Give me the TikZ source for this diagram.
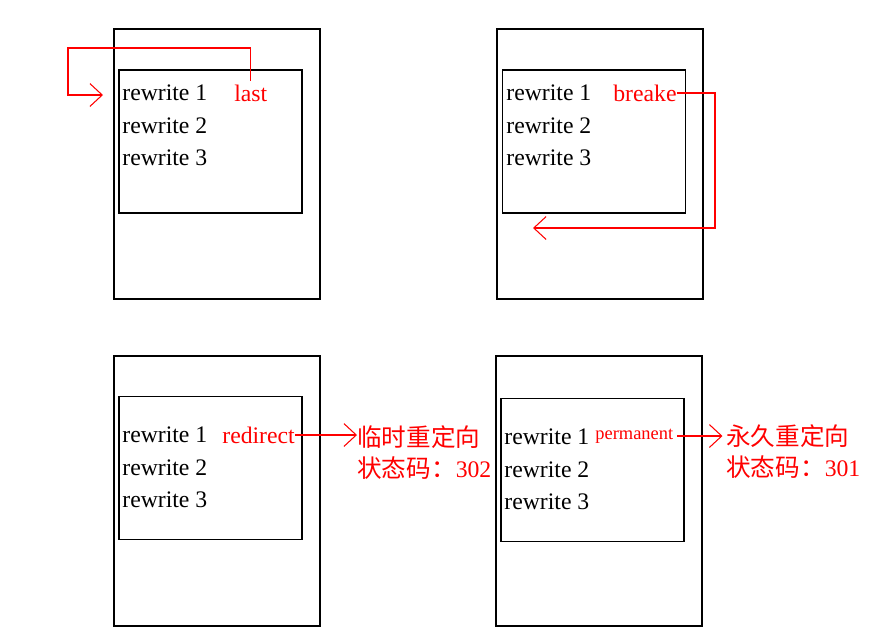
\documentclass[tikz,border=0pt]{standalone}
\usepackage{fontspec}
\setmainfont{Liberation Serif}
\newfontfamily\cjk{Noto Sans CJK SC}
\usetikzlibrary{arrows.meta}

\begin{document}
\begin{tikzpicture}[x=0.02cm,y=-0.02cm,
        every node/.style={inner sep=0pt,font=\fontsize{13.5}{16}\selectfont},
        page/.style={draw,line width=0.7pt,minimum width=4.12cm,minimum height=5.4cm},
        block/.style={draw,line width=0.7pt,minimum width=3.66cm,minimum height=2.86cm},
        redtext/.style={text=red,anchor=west},
        cjktext/.style={text=red,anchor=west,font=\cjk\fontsize{14}{16}\selectfont},
        redline/.style={red,line width=0.6pt,-{Straight Barb[length=7pt,width=13pt]}}
    ]
    \useasboundingbox (0,0) rectangle (884,643);
    % pages and rewrite blocks
    \foreach \name/\x/\y in {tl/217/164, tr/600/164, bl/217/491, br/599/491}
        \node[page] (\name) at (\x,\y) {};
    \foreach \name/\x/\y in {tl/210.5/141.5, tr/594/141.5, bl/210.5/468, br/592.5/470}
        \node[block] (\name-in) at (\x,\y) {};
    \foreach \name/\x/\y in {tl/122/93, tr/506/93, bl/122/435, br/504/437} {
        \foreach \i in {1,2,3}
            \node[anchor=west] (\name-r\i) at (\x,{\y+32.5*(\i-1)}) {rewrite \i};
    }
    % flags
    \node[redtext] (last) at (234,93) {last};
    \node[redtext] (breake) at (613,93) {breake};
    \node[redtext] (redirect) at (222,435) {redirect};
    \node[redtext,font=\fontsize{10.5}{12}\selectfont] (permanent) at (595,436) {permanent};
    \node[cjktext] (temp1) at (357,437) {临时重定向};
    \node[redtext] (temp2) at (357,468) {{\cjk\fontsize{14}{16}\selectfont 状态码：}302};
    \node[cjktext] (perm1) at (726,436) {永久重定向};
    \node[redtext] (perm2) at (726,467) {{\cjk\fontsize{14}{16}\selectfont 状态码：}301};
    % arrows
    \coordinate (lastin) at (103,95);
    \coordinate (breakin) at (533,228);
    \draw[redline] ([yshift=2pt]last.north) |- (68,48) |- (lastin);
    \draw[redline] (breake.east) -| (715,228) -- (breakin);
    \draw[redline] (redirect.east) -- (redirect.east -| temp1.west);
    \draw[redline,shorten <=2pt,shorten >=2pt] (permanent.east) -- (permanent.east -| perm1.west);
\end{tikzpicture}
\end{document}
